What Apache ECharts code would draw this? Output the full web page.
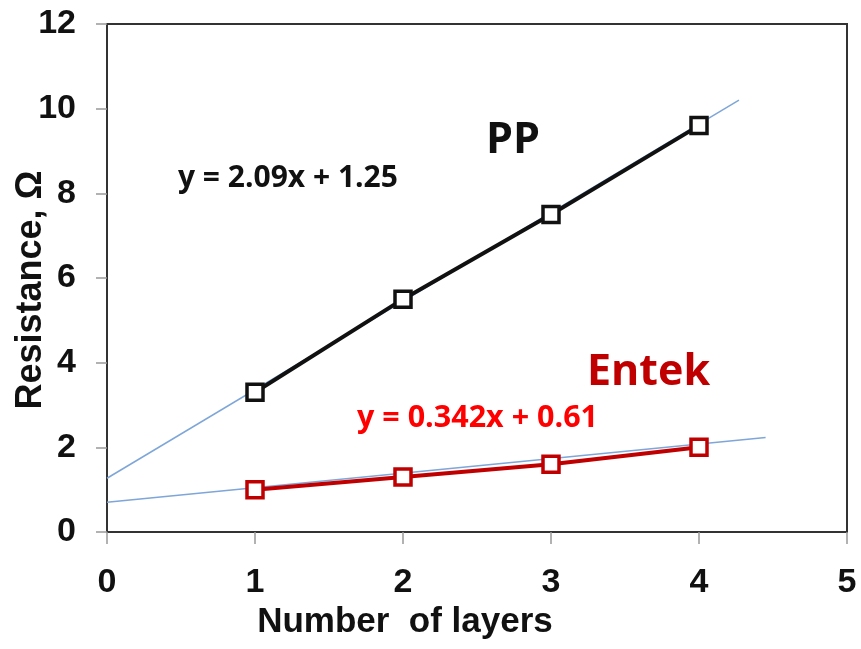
<!DOCTYPE html>
<html><head><meta charset="utf-8">
<script src="https://cdn.jsdelivr.net/npm/echarts@6/dist/echarts.min.js"></script>
<style>html,body{margin:0;padding:0;background:#fff}#c{width:861px;height:649px}</style>
</head><body><div id="c"></div>
<script>
const layers = [1, 2, 3, 4];
const ppValues = [3.3, 5.5, 7.5, 9.6];
const entekValues = [1.0, 1.3, 1.6, 2.0];
const ppTrend = [[0, 1.27], [4.27, 10.2]];
const entekTrend = [[0, 0.7], [4.45, 2.23]];
const ppEquation = 'y = 2.09x + 1.25';
const entekEquation = 'y = 0.342x + 0.61';
const xTicks = [0, 1, 2, 3, 4, 5];
const yTicks = [0, 2, 4, 6, 8, 10, 12];
const xTitle = 'Number  of layers';
const yTitle = 'Resistance, Ω';

const chart = echarts.init(document.getElementById('c'), null, {renderer: 'canvas'});
const lbl = {fontFamily: 'Liberation Sans, Arial', fontWeight: 'bold', fontSize: 34, color: '#111'};
const markerStyle = (c) => ({color: '#fff', borderColor: c, borderWidth: 3.5});
chart.setOption({
  animation: false,
  grid: {left: 107, right: 14, top: 24, bottom: 117, containLabel: false, outerBoundsMode: 'none',
         show: true, borderColor: '#333', borderWidth: 2, backgroundColor: 'transparent'},
  xAxis: {
    type: 'value', min: 0, max: 5, interval: 1,
    axisLine: {show: true, lineStyle: {color: '#333', width: 2}},
    axisTick: {show: true, inside: false, length: 12, lineStyle: {color: '#999', width: 1.5}},
    axisLabel: Object.assign({}, lbl, {margin: 34, formatter: v => xTicks.includes(v) ? String(v) : ''}),
    splitLine: {show: false}
  },
  yAxis: {
    type: 'value', min: 0, max: 12, interval: 2,
    axisLine: {show: true, lineStyle: {color: '#333', width: 2}},
    axisTick: {show: true, inside: false, length: 11, lineStyle: {color: '#999', width: 1.5}},
    axisLabel: Object.assign({}, lbl, {margin: 31, formatter: v => yTicks.includes(v) ? String(v) : ''}),
    splitLine: {show: false}
  },
  series: [
    {type: 'line', data: ppTrend, symbol: 'none', lineStyle: {color: '#7ea6d8', width: 1.5}, z: 1},
    {type: 'line', data: entekTrend, symbol: 'none', lineStyle: {color: '#7ea6d8', width: 1.5}, z: 1},
    {type: 'line', data: layers.map((x, i) => [x, ppValues[i]]), symbol: 'rect', symbolSize: 16,
     itemStyle: markerStyle('#111'), lineStyle: {color: '#111', width: 4}, z: 2},
    {type: 'line', data: layers.map((x, i) => [x, entekValues[i]]), symbol: 'rect', symbolSize: 16,
     itemStyle: markerStyle('#c00000'), lineStyle: {color: '#c00000', width: 4}, z: 2}
  ],
  graphic: [
    {type: 'text', x: 405, y: 622, style: {text: xTitle, fontFamily: 'Liberation Sans', fontWeight: 'bold', fontSize: 35, fill: '#111', align: 'center', verticalAlign: 'middle'}},
    {type: 'text', x: 31, y: 290, rotation: Math.PI / 2, style: {text: yTitle, fontFamily: 'Liberation Sans', fontWeight: 'bold', fontSize: 36, fill: '#111', align: 'center', verticalAlign: 'middle'}},
    {type: 'text', x: 178, y: 178, style: {text: ppEquation, fontFamily: 'Open Sans', fontWeight: 'bold', fontSize: 30, fill: '#111', align: 'left', verticalAlign: 'middle'}},
    {type: 'text', x: 486, y: 141, style: {text: 'PP', fontFamily: 'Open Sans', fontWeight: 'bold', fontSize: 43, fill: '#111', align: 'left', verticalAlign: 'middle'}},
    {type: 'text', x: 587, y: 373, style: {text: 'Entek', fontFamily: 'Open Sans', fontWeight: 'bold', fontSize: 43, fill: '#c00000', align: 'left', verticalAlign: 'middle'}},
    {type: 'text', x: 357, y: 418, style: {text: entekEquation, fontFamily: 'Open Sans', fontWeight: 'bold', fontSize: 30.5, fill: '#ff0000', align: 'left', verticalAlign: 'middle'}}
  ]
});
</script></body></html>
